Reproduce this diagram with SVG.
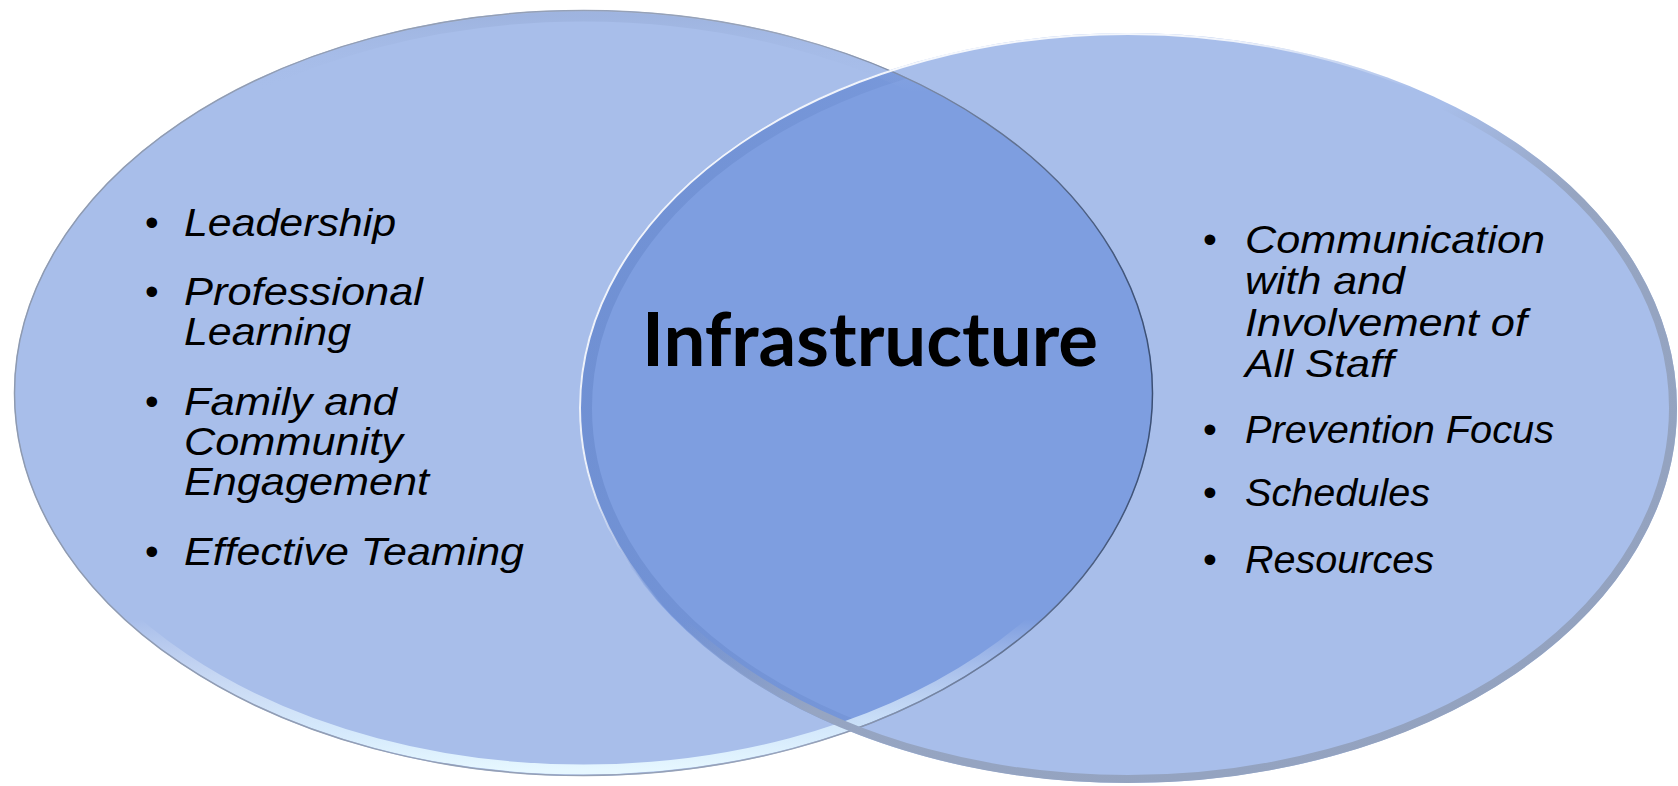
<svg xmlns="http://www.w3.org/2000/svg" width="1678" height="786" viewBox="0 0 1678 786">
  <defs>
    <clipPath id="clipLeft">
      <ellipse cx="583.5" cy="393" rx="569.5" ry="383"/>
    </clipPath>
    <linearGradient id="leftEdge" x1="0" y1="0" x2="1" y2="0">
      <stop offset="0" stop-color="#8E9AB0"/>
      <stop offset="0.7" stop-color="#98A3B8"/>
      <stop offset="1" stop-color="#3B4F74"/>
    </linearGradient>
    <linearGradient id="leftBevel" x1="0" y1="0" x2="0" y2="1">
      <stop offset="0" stop-color="#93A8D3" stop-opacity="0.45"/>
      <stop offset="0.1" stop-color="#A8BEEA" stop-opacity="0"/>
      <stop offset="0.8" stop-color="#FFFFFF" stop-opacity="0"/>
      <stop offset="0.95" stop-color="#DDF1FF" stop-opacity="0.85"/>
      <stop offset="1" stop-color="#E6F7FF" stop-opacity="1"/>
    </linearGradient>
    <linearGradient id="rightRim" x1="0" y1="0" x2="1" y2="1">
      <stop offset="0" stop-color="#93A2BF" stop-opacity="0"/>
      <stop offset="0.44" stop-color="#93A2BF" stop-opacity="0"/>
      <stop offset="0.56" stop-color="#96A5C2" stop-opacity="1"/>
      <stop offset="1" stop-color="#92A1BE" stop-opacity="1"/>
    </linearGradient>
    <linearGradient id="rightHi" x1="0" y1="0" x2="1" y2="1">
      <stop offset="0" stop-color="#FFFFFF" stop-opacity="0.95"/>
      <stop offset="0.3" stop-color="#FFFFFF" stop-opacity="0.85"/>
      <stop offset="0.42" stop-color="#FFFFFF" stop-opacity="0"/>
      <stop offset="1" stop-color="#FFFFFF" stop-opacity="0"/>
    </linearGradient>
    <linearGradient id="lensBand" x1="0" y1="0" x2="1" y2="0">
      <stop offset="0" stop-color="#5F80C4" stop-opacity="0.45"/>
      <stop offset="0.25" stop-color="#5F80C4" stop-opacity="0.25"/>
      <stop offset="0.45" stop-color="#5F80C4" stop-opacity="0"/>
      <stop offset="1" stop-color="#5F80C4" stop-opacity="0"/>
    </linearGradient>
  </defs>
  <style>
    .fill { fill: #A8BEEA; }
    .item { font-family: "Liberation Sans", Arial, sans-serif; font-style: italic; fill: #000000; }
    .bullet { font-family: "Liberation Sans", Arial, sans-serif; fill: #000000; }
    .title { font-family: Lato, "Open Sans", sans-serif; font-weight: bold; fill: #000000; }
  </style>

  <g id="left-circle">
    <ellipse class="fill" cx="583.5" cy="393" rx="569.5" ry="383"/>
  </g>

  <g id="right-circle">
    <ellipse class="fill" cx="1128" cy="408" rx="549" ry="375"/>
  </g>

  <g id="overlap">
    <ellipse cx="1128" cy="408" rx="549" ry="375" fill="#7E9EE0" clip-path="url(#clipLeft)"/>
    <ellipse cx="1128" cy="408" rx="542" ry="368" fill="none" stroke="url(#lensBand)" stroke-width="12" clip-path="url(#clipLeft)"/>
  </g>

  <g id="rims">
    <ellipse cx="583.5" cy="393" rx="563" ry="376.5" fill="none" stroke="url(#leftBevel)" stroke-width="10"/>
    <ellipse cx="583.5" cy="393" rx="569" ry="382.5" fill="none" stroke="url(#leftEdge)" stroke-width="1.5"/>
    <ellipse cx="1128" cy="408" rx="545" ry="371" fill="none" stroke="url(#rightRim)" stroke-width="8"/>
    <ellipse cx="1128" cy="408" rx="548" ry="374" fill="none" stroke="url(#rightHi)" stroke-width="2"/>
  </g>

  <g id="center-label">
    <text class="title" x="642" y="366" font-size="75" textLength="456" lengthAdjust="spacingAndGlyphs">Infrastructure</text>
  </g>

  <g id="left-list">
    <text class="bullet" x="145" y="236" font-size="39">•</text>
    <text class="item" x="184" y="236" font-size="39" textLength="212" lengthAdjust="spacingAndGlyphs">Leadership</text>
    <text class="bullet" x="145" y="305" font-size="39">•</text>
    <text class="item" x="184" y="305" font-size="39" textLength="239" lengthAdjust="spacingAndGlyphs">Professional</text>
    <text class="item" x="184" y="345" font-size="39" textLength="167" lengthAdjust="spacingAndGlyphs">Learning</text>
    <text class="bullet" x="145" y="415" font-size="39">•</text>
    <text class="item" x="184" y="415" font-size="39" textLength="213" lengthAdjust="spacingAndGlyphs">Family and</text>
    <text class="item" x="184" y="455" font-size="39" textLength="219" lengthAdjust="spacingAndGlyphs">Community</text>
    <text class="item" x="184" y="495" font-size="39" textLength="245" lengthAdjust="spacingAndGlyphs">Engagement</text>
    <text class="bullet" x="145" y="565" font-size="39">•</text>
    <text class="item" x="184" y="565" font-size="39" textLength="340" lengthAdjust="spacingAndGlyphs">Effective Teaming</text>
  </g>

  <g id="right-list">
    <text class="bullet" x="1203" y="253" font-size="39.6">•</text>
    <text class="item" x="1245" y="253" font-size="39.6" textLength="300" lengthAdjust="spacingAndGlyphs">Communication</text>
    <text class="item" x="1245" y="294" font-size="39.6" textLength="160" lengthAdjust="spacingAndGlyphs">with and</text>
    <text class="item" x="1245" y="336" font-size="39.6" textLength="282" lengthAdjust="spacingAndGlyphs">Involvement of</text>
    <text class="item" x="1245" y="377" font-size="39.6" textLength="149" lengthAdjust="spacingAndGlyphs">All Staff</text>
    <text class="bullet" x="1203" y="443" font-size="39.6">•</text>
    <text class="item" x="1245" y="443" font-size="39.6" textLength="309" lengthAdjust="spacingAndGlyphs">Prevention Focus</text>
    <text class="bullet" x="1203" y="506" font-size="39.6">•</text>
    <text class="item" x="1245" y="506" font-size="39.6" textLength="185" lengthAdjust="spacingAndGlyphs">Schedules</text>
    <text class="bullet" x="1203" y="573" font-size="39.6">•</text>
    <text class="item" x="1245" y="573" font-size="39.6" textLength="189" lengthAdjust="spacingAndGlyphs">Resources</text>
  </g>
</svg>
